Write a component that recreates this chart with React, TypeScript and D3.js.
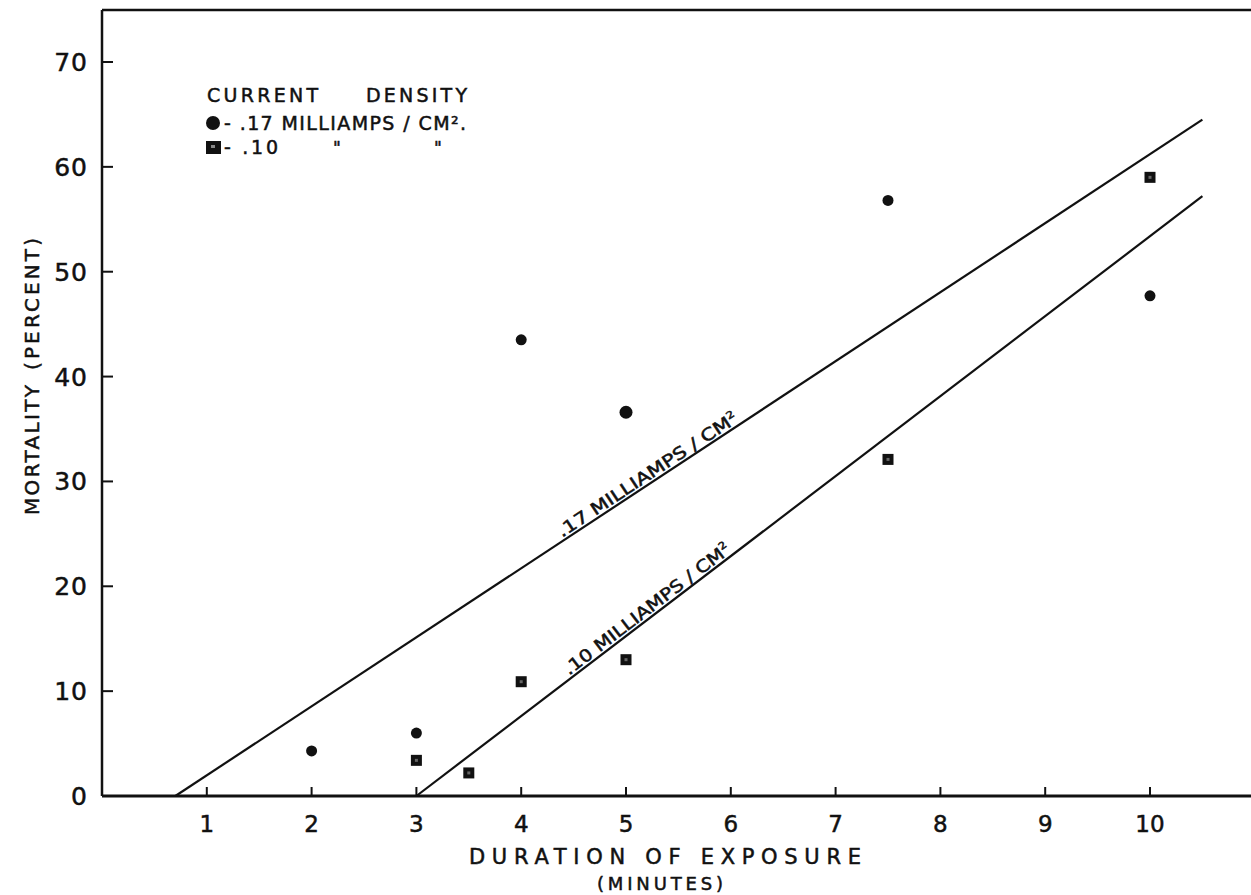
import { scaleLinear, line } from "d3";

// measured points, .17 mA/cm2 (circles) and .10 mA/cm2 (squares)
const highX = [2, 3, 4, 5, 7.5, 10];
const highY = [4.3, 6, 43.5, 36.6, 56.8, 47.7];
const lowX = [3, 3.5, 4, 5, 7.5, 10];
const lowY = [3.4, 2.2, 10.9, 13, 32.1, 59];

// fitted lines, end points
const highLineX = [0.7, 10.5];
const highLineY = [0, 64.5];
const lowLineX = [3, 10.5];
const lowLineY = [0, 57.2];

const xTicks = [1, 2, 3, 4, 5, 6, 7, 8, 9, 10];
const yTicks = [0, 10, 20, 30, 40, 50, 60, 70];

const W = 1251;
const H = 895;
const FONT = "'DejaVu Sans', sans-serif";
const INK = "#111";

export default function App() {
  const x = scaleLinear().domain([0, 10]).range([102, 1150]);
  const y = scaleLinear().domain([0, 70]).range([796, 62]);
  const x0 = x(0);
  const y0 = y(0);
  const top = 10;

  const path = line<[number, number]>()
    .x((d) => x(d[0]))
    .y((d) => y(d[1]));

  const highPts = highLineX.map((v, i) => [v, highLineY[i]] as [number, number]);
  const lowPts = lowLineX.map((v, i) => [v, lowLineY[i]] as [number, number]);

  // label placed along a fitted line
  const lineLabel = (pts: [number, number][], at: number, text: string, len: number) => {
    const [a, b] = pts;
    const px1 = x(a[0]), py1 = y(a[1]), px2 = x(b[0]), py2 = y(b[1]);
    const ang = (Math.atan2(py2 - py1, px2 - px1) * 180) / Math.PI;
    const t = (at - a[0]) / (b[0] - a[0]);
    const cx = px1 + t * (px2 - px1);
    const cy = py1 + t * (py2 - py1);
    return (
      <text
        transform={`translate(${cx},${cy}) rotate(${ang}) translate(0,-3)`}
        textAnchor="middle"
        fontSize={17}
        textLength={len}
        lengthAdjust="spacingAndGlyphs"
      >
        {text}
        <tspan fontSize={10} dy={-7}>2</tspan>
      </text>
    );
  };

  return (
    <svg
      width={W}
      height={H}
      viewBox={`0 0 ${W} ${H}`}
      style={{ position: "absolute", left: 0, top: 0, background: "#fff" }}
      fontFamily={FONT}
    >
      <rect width={W} height={H} fill="#fff" />

      {/* frame */}
      <line x1={x0} x2={W} y1={top} y2={top} stroke={INK} strokeWidth={2.5} />
      <line x1={x0} x2={x0} y1={top} y2={y0} stroke={INK} strokeWidth={2.5} />
      <line x1={x0} x2={W} y1={y0} y2={y0} stroke={INK} strokeWidth={3} />

      {/* y ticks */}
      {yTicks.map((t) =>
        t > 0 ? <line key={t} x1={x0} x2={x0 + 11} y1={y(t)} y2={y(t)} stroke={INK} strokeWidth={2} /> : null
      )}
      {/* x ticks */}
      {xTicks.map((t) => (
        <line key={t} x1={x(t)} x2={x(t)} y1={y0} y2={y0 - 9} stroke={INK} strokeWidth={2} />
      ))}

      {/* fitted lines */}
      <path d={path(highPts) ?? ""} fill="none" stroke={INK} strokeWidth={2.2} />
      <path d={path(lowPts) ?? ""} fill="none" stroke={INK} strokeWidth={2.2} />

      <g fill={INK} stroke={INK} strokeWidth={0.5}>
        {yTicks.map((t) => (
          <text key={t} x={88} y={y(t)} dy="0.36em" textAnchor="end" fontSize={25} letterSpacing={1}>
            {t}
          </text>
        ))}
        {xTicks.map((t) => (
          <text key={t} x={x(t)} y={832} textAnchor="middle" fontSize={23}>
            {t}
          </text>
        ))}

        {/* axis titles */}
        <text x={665} y={864} textAnchor="middle" fontSize={21} textLength={392} lengthAdjust="spacing">
          DURATION OF EXPOSURE
        </text>
        <text x={660} y={890} textAnchor="middle" fontSize={18} textLength={126} lengthAdjust="spacing">
          (MINUTES)
        </text>
        <text transform="translate(39,450) rotate(-90)" textAnchor="middle" fontSize={20} textLength={130} lengthAdjust="spacing">
          MORTALITY
        </text>
        <text transform="translate(39,304) rotate(-90)" textAnchor="middle" fontSize={20} textLength={132} lengthAdjust="spacing">
          (PERCENT)
        </text>

        {/* legend */}
        <text x={207} y={102} fontSize={19} textLength={111} lengthAdjust="spacing">CURRENT</text>
        <text x={366} y={102} fontSize={19} textLength={101} lengthAdjust="spacing">DENSITY</text>
        <text x={224} y={130} fontSize={19} textLength={242} lengthAdjust="spacing">
          - .17 MILLIAMPS / CM².
        </text>
        <text x={224} y={154} fontSize={19} textLength={54} lengthAdjust="spacing">- .10</text>
        <text x={337} y={154} fontSize={17} textAnchor="middle">"</text>
        <text x={438} y={154} fontSize={17} textAnchor="middle">"</text>

        {lineLabel(highPts, 5.25, ".17 MILLIAMPS / CM", 212)}
        {lineLabel(lowPts, 5.25, ".10 MILLIAMPS / CM", 205)}
      </g>

      {/* legend markers */}
      <circle cx={213} cy={123} r={7} fill={INK} />
      <rect x={206} y={141} width={15} height={13} fill={INK} />
      <rect x={211} y={145} width={4} height={3} fill="#888" />

      {/* points */}
      {highX.map((v, i) => (
        <circle key={`h${i}`} cx={x(v)} cy={y(highY[i])} r={i === 3 ? 6.5 : 5.5} fill={INK} />
      ))}
      {lowX.map((v, i) => (
        <g key={`l${i}`}>
          <rect x={x(v) - 5.5} y={y(lowY[i]) - 5.5} width={11} height={11} fill={INK} />
          <rect x={x(v) - 1.5} y={y(lowY[i]) - 1.5} width={3} height={3} fill="#666" />
        </g>
      ))}
    </svg>
  );
}
